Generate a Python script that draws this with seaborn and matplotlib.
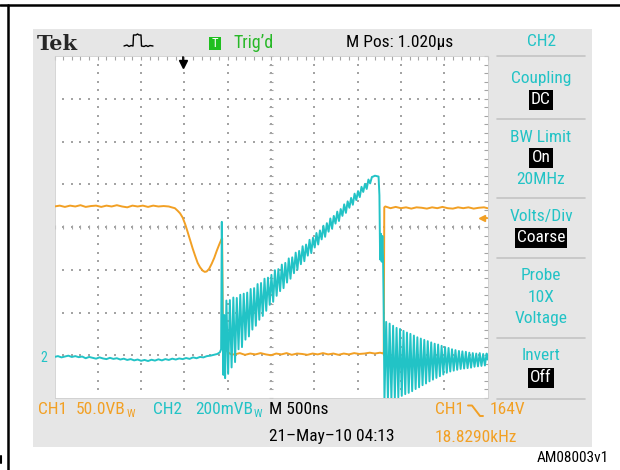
import numpy as np
import pandas as pd
import matplotlib
matplotlib.use("Agg")
import matplotlib.pyplot as plt
import seaborn as sns
from matplotlib import font_manager
from matplotlib.patches import Rectangle
from matplotlib.lines import Line2D

# ---------------------------------------------------------------------------
# Acquisition settings (TDS front panel)
time_per_div_ns = 500          # M 500ns
horiz_pos_ns = 1020            # M Pos: 1.020us (trigger to screen centre)
ch1_volts_per_div = 50.0       # CH1 50.0V
ch2_mv_per_div = 200.0         # CH2 200mV
ground_div = -3.06             # ground reference of both channels (divisions)
trigger_level_v = 164          # CH1 falling-edge trigger level

# ---------------------------------------------------------------------------
# CH1 (drain voltage, V)
ch1_hi_left_t = np.arange(-1480, -159, 60)
ch1_hi_left_v = [177, 178, 176.5, 178, 177, 178.5, 176.5, 177.5, 178, 176.5, 178, 177,
                 178.5, 177, 176, 178, 177, 178, 176.5, 178, 177, 177.5, 177]
ch1_dip_t = [-127, -90, -58, -30, 0, 30, 58, 88, 115, 145, 173, 200, 231, 255, 277, 305,
             335, 365, 393, 420, 445, 456, 462, 468, 500, 531, 560]
ch1_dip_v = [176, 175, 172, 169, 164, 156, 147, 137, 128, 119, 111, 106, 102, 100.5, 101,
             104, 110, 117, 125, 132, 138, 140, 60, 14, 9, 6, 4]
ch1_low_t = np.arange(600, 2281, 60)
ch1_low_v = [4, 5.5, 3.5, 5, 4, 5.5, 4, 3, 5, 4, 5.5, 3.5, 5, 4.5, 3.5, 5, 4, 5.5, 4, 5,
             3.5, 5, 4, 5.5, 4.5, 5, 6, 5, 6]
ch1_edge_t = [2316, 2322, 2328]
ch1_edge_v = [5, 5, 176]
ch1_hi_right_t = list(np.arange(2340, 3481, 60)) + [3520]
ch1_hi_right_v = [177, 175, 176.5, 175, 176, 174.5, 176, 175.5, 174.5, 176, 175, 176.5,
                  175, 174.5, 176, 175, 176, 174.5, 175.5, 176, 175]

# CH2 (sense voltage, mV)
ch2_base_t = np.arange(-1480, 401, 40)
ch2_base_mv = [4, 8, 2, 6, 10, 4, 8, 3, 6, -2, 4, 0, -4, 2, -3, -6, 0, -5, -2, -8,
               -4, -10, -6, -12, -8, -14, -10, -15, -9, -13, -7, -12, -6, -10, -4, -8,
               -3, -6, -1, -5, 2, -2, 4, 2, 8, 10, 14, 18]
ch2_spike_t = [430, 444, 452, 462, 470, 480, 490]
ch2_spike_mv = [26, 40, 636, 150, -80, 200, -95]
ch2_ramp_t = np.arange(505, 2186, 20)
ch2_ramp_mv = [268, -75, 270, -45, 282, -20, 280, 40, 295, 50,
               300, 85, 305, 100, 322, 132, 326, 150, 345, 178,
               350, 196, 370, 220, 375, 248, 388, 262, 410, 290,
               415, 312, 436, 326, 444, 352, 465, 370, 470, 396,
               492, 412, 500, 438, 522, 452, 530, 478, 552, 490,
               562, 516, 584, 530, 596, 554, 618, 566, 630, 590,
               652, 604, 664, 628, 684, 640, 696, 664, 718, 678,
               732, 702, 748, 716, 768, 738, 780, 752, 800, 776,
               814, 790, 834, 816, 846]
ch2_peak_t = [2200, 2220, 2240, 2262, 2272, 2280, 2290, 2298, 2306, 2314, 2322]
ch2_peak_mv = [848, 852, 850, 848, 760, 460, 580, 450, 570, 460, 200]
ch2_ring_t = list(np.arange(2330, 3511, 20)) + [3520]
ch2_ring_mv = [-200, 168, -195, 160, -192, 150, -188, 140, -185, 135,
               -178, 126, -170, 118, -164, 112, -156, 104, -146, 96,
               -138, 90, -128, 84, -120, 78, -110, 72, -102, 66,
               -94, 62, -86, 56, -78, 50, -70, 46, -64, 40,
               -60, 36, -56, 32, -52, 30, -50, 28, -48, 24,
               -46, 22, -42, 20, -40, 22, -38, 18, -36, 20, -8]

# ---------------------------------------------------------------------------
ORANGE = "#f2a024"
CYAN = "#22c3c6"
GREEN = "#27b827"
PANEL = "#e6e6e6"
GRID = "#a4a4a4"

sns.set_style("white")
installed = {f.name for f in font_manager.fontManager.ttflist}
narrow = next((n for n in ["Liberation Sans Narrow", "Arial Narrow", "Roboto Condensed",
                           "Archivo Narrow", "PT Sans Narrow", "Asap Condensed",
                           "Barlow Condensed", "Liberation Sans"] if n in installed),
              "DejaVu Sans")
plt.rcParams["font.family"] = [narrow, "DejaVu Sans"]

W, H = 620, 470
fig = plt.figure(figsize=(W / 100, H / 100), dpi=100)
fig.patch.set_facecolor("white")


def fx(px):
    return px / W


def fy(py):
    return 1 - py / H


def ftext(px, py, s, **kw):
    kw.setdefault("va", "center")
    kw.setdefault("ha", "left")
    kw.setdefault("fontsize", 12.5)
    return fig.text(fx(px), fy(py), s, **kw)


def fline(xs, ys, **kw):
    fig.add_artist(Line2D([fx(v) for v in xs], [fy(v) for v in ys], **kw))


# outer frame lines of the page
fline([0, 620], [5, 5], color="black", lw=1.8)
fline([8, 8], [5, 470], color="black", lw=1.8)
fline([1, 1], [456, 463], color="black", lw=1.5)

# instrument screen background
fig.add_artist(Rectangle((fx(33), fy(447)), (592 - 33) / W, (447 - 29) / H,
                         transform=fig.transFigure, fc=PANEL, ec="none", zorder=0))

# ---------------------------------------------------------------------------
# waveform area
ax = fig.add_axes([fx(54.5), fy(398), 433 / W, 342 / H])
ax.set_facecolor("white")
x0 = horiz_pos_ns - 5 * time_per_div_ns
x1 = horiz_pos_ns + 5 * time_per_div_ns
ax.set_xlim(x0, x1)
ax.set_ylim(-4, 4)

major_x = [x0 + k * time_per_div_ns for k in range(11)]
minor_x = [x0 + k * time_per_div_ns / 5 for k in range(51)]
major_y = list(range(-4, 5))
minor_y = [-4 + k * 0.2 for k in range(41)]

# dotted graticule
gx, gy = [], []
for xv in major_x[1:-1]:
    for yv in minor_y[1:-1]:
        gx.append(xv); gy.append(yv)
for yv in major_y[1:-1]:
    for xv in minor_x[1:-1]:
        gx.append(xv); gy.append(yv)
ax.scatter(gx, gy, s=1.3, marker="s", color=GRID, lw=0, zorder=1)
# centre-line tick marks
ax.plot([horiz_pos_ns] * len(minor_y), minor_y, ls="none", marker="_", ms=3.2,
        mew=0.8, color=GRID, zorder=1)
ax.plot(minor_x, [0] * len(minor_x), ls="none", marker="|", ms=3.2,
        mew=0.8, color=GRID, zorder=1)

ax.xaxis.set_major_locator(matplotlib.ticker.FixedLocator(major_x))
ax.xaxis.set_minor_locator(matplotlib.ticker.FixedLocator(minor_x))
ax.yaxis.set_major_locator(matplotlib.ticker.FixedLocator(major_y))
ax.yaxis.set_minor_locator(matplotlib.ticker.FixedLocator(minor_y))
ax.tick_params(which="both", direction="in", length=3, width=0.8, color=GRID,
               top=True, right=True, labelbottom=False, labelleft=False)
for sp in ax.spines.values():
    sp.set_color("#cfcfcf")
    sp.set_linewidth(0.6)

# traces
ch1_t = np.concatenate([ch1_hi_left_t, ch1_dip_t, ch1_low_t, ch1_edge_t, ch1_hi_right_t])
ch1_v = np.concatenate([ch1_hi_left_v, ch1_dip_v, ch1_low_v, ch1_edge_v, ch1_hi_right_v])
ch2_t = np.concatenate([ch2_base_t, ch2_spike_t, ch2_ramp_t, ch2_peak_t, ch2_ring_t])
ch2_mv = np.concatenate([ch2_base_mv, ch2_spike_mv, ch2_ramp_mv, ch2_peak_mv, ch2_ring_mv])

df = pd.concat([
    pd.DataFrame({"time_ns": ch1_t, "div": ch1_v / ch1_volts_per_div + ground_div,
                  "channel": "CH1"}),
    pd.DataFrame({"time_ns": ch2_t, "div": ch2_mv / ch2_mv_per_div + ground_div,
                  "channel": "CH2"}),
], ignore_index=True)

sns.lineplot(data=df, x="time_ns", y="div", hue="channel", hue_order=["CH1", "CH2"],
             palette={"CH1": ORANGE, "CH2": CYAN}, estimator=None, sort=False,
             legend=False, linewidth=1.4, ax=ax, zorder=3)
ax.set_xlabel("")
ax.set_ylabel("")

# trigger position (top) and trigger level (right) markers
ax.plot([0, 0], [3.98, 3.86], color="black", lw=1.3, clip_on=False, zorder=5)
ax.plot([0], [3.82], marker="v", ms=6, color="black", clip_on=False, zorder=5)
trig_div = trigger_level_v / ch1_volts_per_div + ground_div
ax.plot([x1 - 60, x1 - 5], [trig_div, trig_div], color=ORANGE, lw=1.5, zorder=5)
ax.plot([x1 - 60], [trig_div], marker="<", ms=5, color=ORANGE, zorder=5)
# CH2 ground marker
ax.text(x0 - 80, ground_div, "2", color=CYAN, fontsize=10, ha="right", va="center")

# ---------------------------------------------------------------------------
# header row
ftext(37, 44, "Tek", family=["DejaVu Serif"], fontweight="bold", fontsize=15)
fline([124, 127, 129, 131, 133, 133.5, 136, 137.5, 139, 141, 141.5, 144, 146, 148, 150, 153],
      [46, 45, 46.5, 45.5, 46, 35, 35, 34, 35, 35, 46, 46.5, 45.5, 46.5, 45.5, 46],
      color="black", lw=1.0)
fig.add_artist(Rectangle((fx(209), fy(50)), 12 / W, 13 / H, transform=fig.transFigure,
                         fc="#1fbf1f", ec="none"))
ftext(215, 43.5, "T", color="white", fontsize=9, ha="center")
ftext(233, 43, "Trig\u2019d", color=GREEN, fontsize=13)
ftext(346, 43, "M Pos: 1.020\u00b5s", color="black")

# side menu
menu_x = 541
for sy in [56, 119, 198, 258, 338, 399]:
    fline([497, 585], [sy, sy], color="#c4c4c4", lw=1.2)
for label, ly in [("CH2", 42), ("Coupling", 78), ("BW Limit", 137), ("20MHz", 179),
                  ("Volts/Div", 216), ("Probe", 276), ("10X", 297), ("Voltage", 318),
                  ("Invert", 356)]:
    ftext(menu_x, ly, label, color=CYAN, ha="center")
for label, ly in [("DC", 100), ("On", 158), ("Coarse", 238), ("Off", 378)]:
    ftext(menu_x, ly, label, color="white", ha="center",
          bbox=dict(boxstyle="square,pad=0.12", fc="black", ec="none"))

# status rows
renderer = fig.canvas.get_renderer()


def bw_text(px, py, s, color):
    t = ftext(px, py, s, color=color)
    bb = t.get_window_extent(renderer)
    fig.text(bb.x1 / W + 0.5 / W, fy(py + 4), "W", color=color, fontsize=8,
             va="center", ha="left")


ftext(38, 410, "CH1", color=ORANGE)
bw_text(76, 410, "50.0VB", ORANGE)
ftext(153, 410, "CH2", color=CYAN)
bw_text(195, 410, "200mVB", CYAN)
ftext(269, 410, "M 500ns", color="black")
ftext(269, 437, "21\u2013May\u201310 04:13", color="black")
ftext(435, 410, "CH1", color=ORANGE)
fline([468, 472, 480, 483], [405.5, 405.5, 416, 416], color=ORANGE, lw=1.4)
ftext(490, 410, "164V", color=ORANGE)
ftext(435, 437, "18.8290kHz", color=ORANGE)
ftext(537, 458, "AM08003v1", color="black", fontsize=11)

fig.savefig("out.png", dpi=100)
